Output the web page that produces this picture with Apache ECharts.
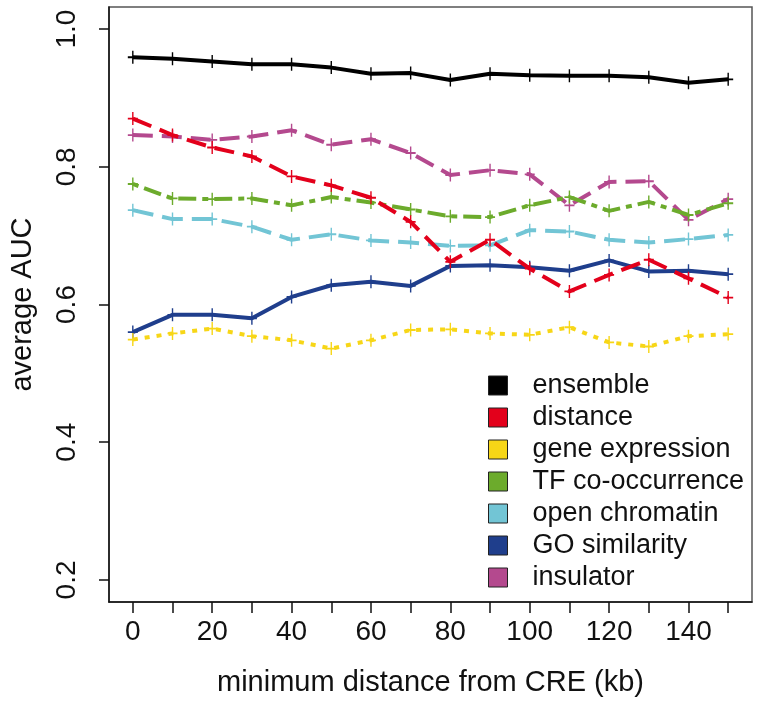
<!DOCTYPE html>
<html><head><meta charset="utf-8">
<script src="https://cdn.jsdelivr.net/npm/echarts@6/dist/echarts.min.js"></script>
<style>html,body{margin:0;padding:0;background:#fff}#c{width:760px;height:707px}</style>
</head><body><div id="c"></div>
<script>
const xValues = [0,10,20,30,40,50,60,70,80,90,100,110,120,130,140,150];
const xTickLabels = [0,20,40,60,80,100,120,140];
const yTickValues = [0.2,0.4,0.6,0.8,1.0];
const seriesNames = ['ensemble','distance','gene expression','TF co-occurrence','open chromatin','GO similarity','insulator'];
const ensemble = [0.959,0.957,0.953,0.949,0.949,0.944,0.935,0.936,0.926,0.935,0.933,0.932,0.932,0.930,0.922,0.927];
const distance = [0.870,0.846,0.828,0.815,0.786,0.773,0.755,0.720,0.662,0.694,0.652,0.619,0.643,0.665,0.638,0.610];
const geneExpression = [0.549,0.558,0.565,0.554,0.548,0.536,0.548,0.563,0.564,0.558,0.556,0.567,0.545,0.539,0.554,0.557];
const tfCooccurrence = [0.775,0.754,0.753,0.754,0.744,0.756,0.748,0.738,0.728,0.727,0.744,0.756,0.736,0.749,0.730,0.747];
const openChromatin = [0.737,0.724,0.724,0.713,0.694,0.702,0.693,0.690,0.685,0.686,0.708,0.706,0.694,0.690,0.695,0.701];
const goSimilarity = [0.560,0.585,0.585,0.580,0.611,0.628,0.633,0.627,0.656,0.657,0.654,0.649,0.664,0.648,0.649,0.644];
const insulator = [0.846,0.844,0.839,0.844,0.853,0.832,0.840,0.820,0.788,0.795,0.789,0.744,0.778,0.779,0.723,0.753];

const allValues = [ensemble, distance, geneExpression, tfCooccurrence, openChromatin, goSimilarity, insulator];
const colors = ['#000000','#e3001b','#f7d617','#6cab2c','#72c5d5','#1f3e8c','#b4498e'];
const dashes = ['solid',[20,9],[5,7],[6,6,18,6],[21,9],'solid',[20,9]];
const plus = 'path://M4.3,0 H5.7 V4.3 H10 V5.7 H5.7 V10 H4.3 V5.7 H0 V4.3 H4.3 Z';
const FONT = 'Liberation Sans';

const series = allValues.map((vals, i) => ({
  name: seriesNames[i],
  type: 'line',
  data: xValues.map((x, j) => [x, vals[j]]),
  symbol: plus,
  symbolSize: [10, 13],
  showSymbol: true,
  itemStyle: { color: colors[i] },
  lineStyle: { color: colors[i], width: 4, type: dashes[i] },
  emphasis: { disabled: true },
  animation: false,
  z: 10 - i
}));

const chart = echarts.init(document.getElementById('c'), null, { renderer: 'canvas' });
chart.setOption({
  backgroundColor: '#ffffff',
  animation: false,
  textStyle: { fontFamily: FONT },
  grid: { left: 108, right: 8, top: 7, bottom: 105, show: true, borderColor: '#555', borderWidth: 1.5, backgroundColor: 'transparent' },
  xAxis: {
    type: 'value', min: -6, max: 156,
    name: 'minimum distance from CRE (kb)', nameLocation: 'middle', nameGap: 66,
    nameTextStyle: { fontSize: 29, color: '#111', fontFamily: FONT },
    axisLine: { show: true, onZero: false, lineStyle: { color: '#111', width: 1.5 } },
    axisTick: { show: true, length: 11, customValues: xValues, lineStyle: { color: '#111', width: 1.5 } },
    axisLabel: { customValues: xTickLabels, fontSize: 28, color: '#111', margin: 16, fontFamily: FONT },
    splitLine: { show: false }
  },
  yAxis: {
    type: 'value', min: 0.168, max: 1.032,
    name: 'average AUC', nameLocation: 'middle', nameGap: 72, nameRotate: 90,
    nameTextStyle: { fontSize: 29, color: '#111', fontFamily: FONT },
    axisLine: { show: true, onZero: false, lineStyle: { color: '#111', width: 1.5 } },
    axisTick: { show: true, length: 10, customValues: yTickValues, lineStyle: { color: '#111', width: 1.5 } },
    axisLabel: { customValues: yTickValues, rotate: 90, fontSize: 28, color: '#111', margin: 28, fontFamily: FONT,
      formatter: v => v.toFixed(1) },
    splitLine: { show: false }
  },
  legend: {
    orient: 'vertical', left: 483, top: 367,
    icon: 'rect', itemWidth: 19, itemHeight: 19, itemGap: 5,
    itemStyle: { borderColor: '#222', borderWidth: 1 },
    textStyle: { fontSize: 27, lineHeight: 27, color: '#111', fontFamily: FONT, padding: [0,0,0,20] },
    data: seriesNames,
    selectedMode: false
  },
  series: series
});
</script></body></html>
